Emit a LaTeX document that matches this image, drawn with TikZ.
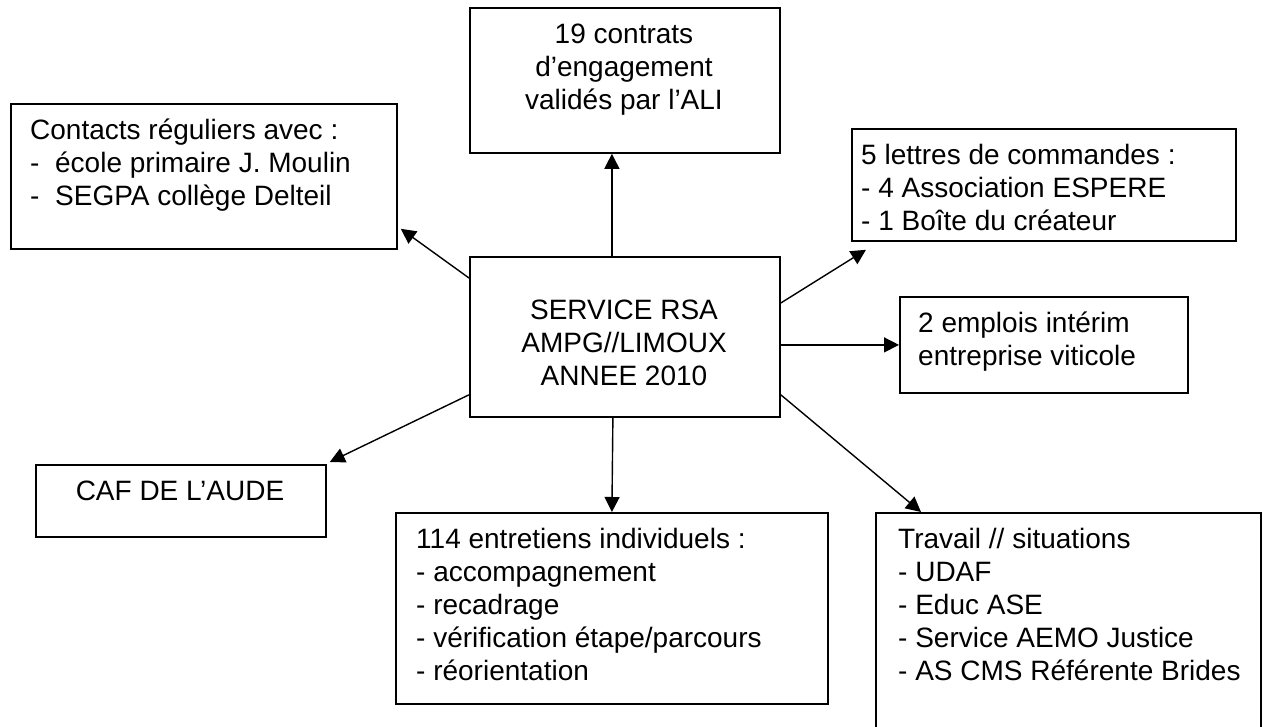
\documentclass[tikz,border=0pt]{standalone}
\usepackage{fontspec}
\setmainfont{Liberation Sans}
\usetikzlibrary{arrows.meta}
\tikzset{
  box/.style={draw=black, line width=1.8pt, fill=white, inner sep=0pt, anchor=north west},
  txt/.style={inner sep=0pt, font=\fontsize{28}{33}\selectfont},
  arr/.style={line width=1.4pt, -{Triangle[length=15pt,width=15pt]}}
}
\begin{document}
\begin{tikzpicture}[x=1pt,y=-1pt]
\clip (0,0) rectangle (1263,726);
\fill[white] (0,0) rectangle (1263,726);
% boxes
\node[box, minimum width=386pt, minimum height=145pt] (ct)   at (10,103)  {};
\node[box, minimum width=310pt, minimum height=145pt] (top)  at (469,7)   {};
\node[box, minimum width=310pt, minimum height=160pt] (c)    at (469,256) {};
\node[box, minimum width=384pt, minimum height=112pt] (cmd)  at (851,128) {};
\node[box, minimum width=288pt, minimum height=96pt]  (em)   at (899,296) {};
\node[box, minimum width=290pt, minimum height=72pt]  (caf)  at (35,464)  {};
\node[box, minimum width=432pt, minimum height=191pt] (ent)  at (395,512) {};
\node[box, minimum width=385pt, minimum height=240pt] (trav) at (875,512) {};
% texts
\node[txt, anchor=north west, align=left] (ctT) at (30,115.9)
  {\strut Contacts réguliers avec :\\
   \makebox[25pt][l]{-}école primaire J. Moulin\\
   \makebox[25pt][l]{-}SEGPA collège Delteil};
\node[txt, anchor=north, align=center] (topT) at (624,19.9)
  {\strut 19 contrats\\d’engagement\\validés par l’ALI};
\node[txt, anchor=north, align=center] (cT) at (624,295.9)
  {\strut SERVICE RSA\\AMPG//LIMOUX\\ANNEE 2010};
\node[txt, anchor=north west, align=left] (cmdT) at (861,140.9)
  {\strut 5 lettres de commandes :\\- 4 Association ESPERE\\- 1 Boîte du créateur};
\node[txt, anchor=north west, align=left] (emT) at (918,308.9)
  {\strut 2 emplois intérim\\entreprise viticole};
\node[txt, anchor=north, align=center] (cafT) at (180,476.9)
  {\strut CAF DE L’AUDE};
\node[txt, anchor=north west, align=left] (entT) at (416,524.9)
  {\strut 114 entretiens individuels :\\- accompagnement\\- recadrage\\- vérification étape/parcours\\- réorientation};
\node[txt, anchor=north west, align=left] (travT) at (898,524.9)
  {\strut Travail // situations\\- UDAF\\- Educ ASE\\- Service AEMO Justice\\- AS CMS Référente Brides};
% connectors
\draw[arr] ([xshift=-13pt]c.north) -- ([xshift=-13pt]top.south);
\draw[arr] ([yshift=-22pt]c.north west) -- ([xshift=3pt,yshift=21pt]ct.south east);
\draw[arr] ([yshift=23pt]c.south west) -- ([xshift=3pt,yshift=2pt]caf.north east);
\draw[arr] ([xshift=-12pt]c.south) -- (ent.north);
\draw[arr] ([yshift=-47pt]c.north east) -- ([xshift=15pt,yshift=-8pt]cmd.south west);
\draw[arr] (em.west -| c.east) -- (em.west);
\draw[arr] ([yshift=23pt]c.south east) -- ([xshift=46pt]trav.north west);
\end{tikzpicture}
\end{document}
